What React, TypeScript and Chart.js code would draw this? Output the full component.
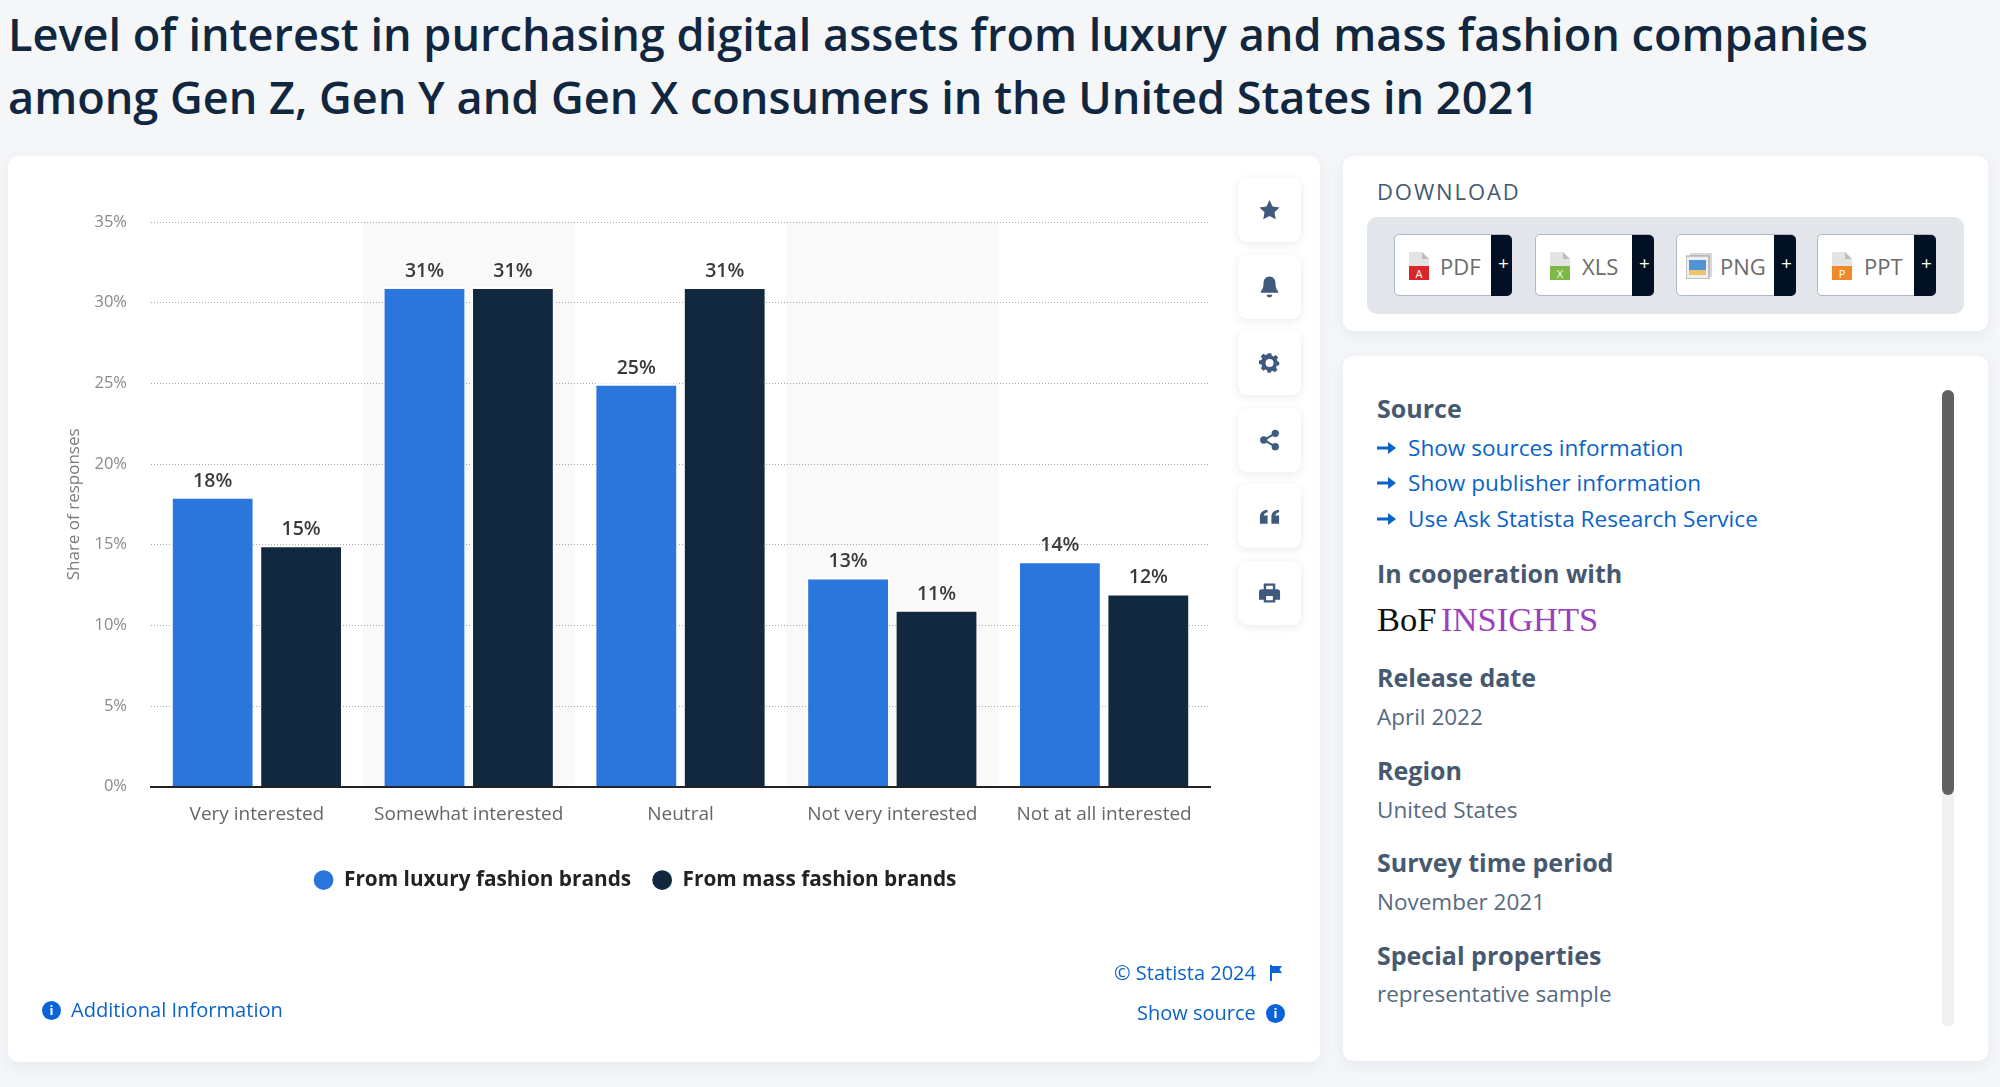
import {useEffect, useRef} from 'react'
import {Chart, registerables} from 'chart.js'

Chart.register(...registerables);

const categories = ["Very interested", "Somewhat interested", "Neutral", "Not very interested", "Not at all interested"];
const luxuryValues = [18, 31, 25, 13, 14];
const massValues = [15, 31, 31, 11, 12];
const seriesNames = ["From luxury fashion brands", "From mass fashion brands"];
const seriesColors = ["#2a76dd", "#12283f"];
const shadedCategories = ["Somewhat interested", "Not very interested"];
const yMax = 35;
const yStep = 5;

const FONT = "'Open Sans', sans-serif";
const SLATE = "#46596f";
const LINK = "#0a63c9";

// grey columns behind every second category
const bandsPlugin = {
    id: "bands",
    beforeDraw(chart: any) {
        const {ctx, scales} = chart;
        const x = scales.x;
        const band = x.width / categories.length;
        ctx.save();
        ctx.fillStyle = "#f9f9f9";
        shadedCategories.forEach((name) => {
            const cx = x.getPixelForValue(categories.indexOf(name));
            const top = scales.y.getPixelForValue(yMax);
            ctx.fillRect(cx - band / 2, top, band, scales.y.bottom - top);
        });
        ctx.restore();
    },
};

const valueLabelsPlugin = {
    id: "valueLabels",
    afterDatasetsDraw(chart: any) {
        const {ctx} = chart;
        ctx.save();
        ctx.font = `600 19.5px ${FONT}`;
        ctx.fillStyle = "#3a3a3a";
        ctx.textAlign = "center";
        ctx.textBaseline = "bottom";
        chart.data.datasets.forEach((ds: any, i: number) => {
            chart.getDatasetMeta(i).data.forEach((bar: any, j: number) => {
                ctx.fillText(ds.data[j] + "%", bar.x, bar.y - 5.5);
            });
        });
        ctx.restore();
    },
};

const Txt = ({x, y, size, color, weight = 400, spacing, wordSpacing, family, children}: any) => (
    <div style={{
        position: "absolute", left: x, top: y, transform: "translateY(-50%)", whiteSpace: "nowrap",
        fontFamily: family || FONT, fontSize: size, color, fontWeight: weight, letterSpacing: spacing, wordSpacing,
    }}>{children}</div>
);

const Card = ({x, y, w, h}: any) => (
    <div style={{
        position: "absolute", left: x, top: y, width: w, height: h, background: "#fff",
        borderRadius: 10, boxShadow: "0 4px 14px rgba(60,80,110,0.08)",
    }}/>
);

const iconPaths = [
    <path d="M12 1.500l3.200 6.800 7.300 1-5.300 5.100 1.300 7.300-6.500-3.500-6.500 3.500 1.300-7.300L1.500 9.300l7.300-1z"/>,
    <path d="M12 1c-4 0-6.200 3.100-6.200 6.900 0 4.400-1 6.700-2.800 8.500v1.600h18v-1.600c-1.800-1.800-2.800-4.100-2.800-8.500C18.200 4.100 16 1 12 1zM9.200 20h5.600a2.800 2.800 0 0 1-5.600 0z"/>,
    <path fillRule="evenodd" d="M10 2h4l.6 2.800 1.900.8 2.400-1.500 2.800 2.800-1.500 2.400.8 1.900L23 11.800v3.900l-2.800.6-.8 1.900 1.500 2.400-2.800 2.800-2.400-1.500-1.900.8L13.200 24h-3.400l-.6-2.800-1.900-.8-2.400 1.500-2.800-2.800 1.500-2.400-.8-1.900L0 14.200v-3.900l2.800-.6.8-1.900L2.100 5.400l2.800-2.800 2.400 1.500 1.900-.8zM12 8.500a4.500 4.500 0 1 0 0 9 4.500 4.500 0 0 0 0-9z" transform="translate(1 0) scale(.92)"/>,
    <g><circle cx="18" cy="5" r="3.800"/><circle cx="18" cy="19" r="3.800"/><circle cx="6" cy="12" r="3.800"/><path d="M6 11l12-7 1 1.800-12 7zM6 13l12 7 1-1.800-12-7z"/></g>,
    <path d="M2 20v-7c0-4 2.500-7 8-7.500V8c-2.500.4-3.800 1.700-4 3.500h4V20zM14 20v-7c0-4 2.500-7 8-7.500V8c-2.500.4-3.800 1.700-4 3.500h4V20z"/>,
    <path fillRule="evenodd" d="M6 2h12v6h2a3 3 0 0 1 3 3v8h-5v3H6v-3H1v-8a3 3 0 0 1 3-3h2zm2.500 2.500V8h7V4.500zM8.500 15v4.500h7V15z"/>,
];

const DocIcon = ({x, color, label}: any) => (
    <svg style={{position: "absolute", left: x, top: 252}} width="22" height="28" viewBox="0 0 22 28">
        <path d="M1 0h13l7 7v21H1z" fill="#e4e4e4"/>
        <path d="M14 0l7 7h-7z" fill="#bdbdbd"/>
        <rect x="1" y="14" width="20" height="14" fill={color}/>
        <text x="11" y="26" fontSize="11" textAnchor="middle" fill="#fff" fontFamily={FONT}>{label}</text>
    </svg>
);

const PictureIcon = ({x}: any) => (
    <svg style={{position: "absolute", left: x, top: 253}} width="26" height="26" viewBox="0 0 26 26">
        <rect x="4" y="0" width="22" height="24" fill="#d8d8d8"/>
        <rect x="0" y="3" width="23" height="23" fill="#eeeeee" stroke="#999999"/>
        <rect x="3" y="7" width="17" height="10" fill="#4f93d8"/>
        <rect x="3" y="17" width="17" height="5" fill="#e8c56a"/>
    </svg>
);

const Arrow = ({y}: any) => (
    <svg style={{position: "absolute", left: 1377, top: y - 7}} width="19" height="14" viewBox="0 0 19 14">
        <path d="M0 5.500h11V1l8 6-8 6V8.500H0z" fill={LINK}/>
    </svg>
);

const InfoDot = ({x, y}: any) => (
    <div style={{
        position: "absolute", left: x, top: y - 9.500, width: 19, height: 19, borderRadius: "50%", background: "#0b63dc",
        color: "#fff", fontSize: 13, lineHeight: "19px", textAlign: "center", fontFamily: FONT, fontWeight: 700,
    }}>i</div>
);

const downloadButtons = [
    {x: 1394, w: 118, blackX: 1491, label: "PDF", labelX: 1440, icon: "#d9262b", mark: "A"},
    {x: 1535, w: 119, blackX: 1632, label: "XLS", labelX: 1582, icon: "#7cb844", mark: "X"},
    {x: 1676, w: 120, blackX: 1774, label: "PNG", labelX: 1720, icon: "", mark: ""},
    {x: 1817, w: 119, blackX: 1914, label: "PPT", labelX: 1864, icon: "#ee8a2c", mark: "P"},
];

const sideLinks = [
    {y: 447, label: "Show sources information"},
    {y: 482, label: "Show publisher information"},
    {y: 518, label: "Use Ask Statista Research Service"},
];

const sideFacts = [
    {y: 677, vy: 716, head: "Release date", value: "April 2022"},
    {y: 770, vy: 809, head: "Region", value: "United States"},
    {y: 862, vy: 901, head: "Survey time period", value: "November 2021"},
    {y: 955, vy: 993, head: "Special properties", value: "representative sample"},
];

const App: React.FC = () => {
    const canvasRef = useRef<HTMLCanvasElement>(null);
    const chartRef = useRef<Chart | null>(null);

    useEffect(() => {
        if (!canvasRef.current) return;
        if (chartRef.current) chartRef.current.destroy();

        chartRef.current = new Chart(canvasRef.current, {
            type: "bar",
            data: {
                labels: categories,
                datasets: [
                    {label: seriesNames[0], data: luxuryValues, backgroundColor: seriesColors[0]},
                    {label: seriesNames[1], data: massValues, backgroundColor: seriesColors[1]},
                ],
            },
            options: {
                responsive: false,
                animation: false,
                devicePixelRatio: 1,
                datasets: {
                    bar: {
                        categoryPercentage: 0.835,
                        barPercentage: 0.925,
                        borderColor: "#ffffff",
                        borderWidth: {top: 2.5, left: 1, right: 1, bottom: 0},
                        borderSkipped: false,
                    },
                },
                layout: {padding: {left: 52, top: 66, right: 110, bottom: 161.5}},
                scales: {
                    x: {
                        grid: {display: false, drawTicks: false},
                        border: {color: "#222222", width: 2},
                        ticks: {color: "#666666", padding: 16, font: {family: FONT, size: 19}, maxRotation: 0},
                        afterFit(scale: any) { scale.height = 62; },
                    },
                    y: {
                        min: 0,
                        max: yMax,
                        ticks: {
                            stepSize: yStep,
                            color: "#8a8a8a",
                            padding: 24,
                            font: {family: FONT, size: 16.5},
                            callback: (v: any) => v + "%",
                        },
                        grid: {color: "#a8a8a8", lineWidth: 1, drawTicks: false},
                        border: {display: false, dash: [1, 2]},
                        title: {display: true, text: "Share of responses", color: "#7a7a7a", padding: {top: 4, bottom: 0}, font: {family: FONT, size: 17}},
                        afterFit(scale: any) { scale.width = 91; },
                    },
                },
                plugins: {
                    tooltip: {enabled: false},
                    legend: {
                        position: "bottom",
                        labels: {
                            usePointStyle: true,
                            pointStyle: "circle",
                            boxWidth: 20,
                            boxHeight: 14,
                            padding: 21,
                            color: "#222222",
                            font: {family: FONT, size: 20.8, weight: "700"},
                            // legend dots take the series fill, without the white bar edge
                            generateLabels: (chart: any) => chart.data.datasets.map((ds: any, i: number) => ({
                                text: ds.label,
                                fillStyle: ds.backgroundColor,
                                strokeStyle: ds.backgroundColor,
                                lineWidth: 0,
                                pointStyle: "circle",
                                fontColor: "#222222",
                                hidden: false,
                                datasetIndex: i,
                            })),
                        },
                    },
                },
            },
            plugins: [bandsPlugin, valueLabelsPlugin],
        } as any);

        return () => {
            chartRef.current?.destroy();
        };
    }, []);

    return (
        <div style={{position: "absolute", left: 0, top: 0, width: 2000, height: 1087, overflow: "hidden", background: "#f4f6f8", fontFamily: FONT}}>
            <Txt x={8} y={33} size={45.1} color="#10273f" weight={600}>Level of interest in purchasing digital assets from luxury and mass fashion companies</Txt>
            <Txt x={8} y={96} size={45.1} color="#10273f" weight={600}>among Gen Z, Gen Y and Gen X consumers in the United States in 2021</Txt>

            <Card x={8} y={156} w={1312} h={906}/>
            <Card x={1343} y={156} w={645} h={175}/>
            <Card x={1343} y={356} w={645} h={705}/>

            <canvas ref={canvasRef} width={1312} height={906} style={{position: "absolute", left: 8, top: 156}}/>

            {iconPaths.map((p, i) => (
                <div key={i} style={{
                    position: "absolute", left: 1238, top: 178 + i * 76.5, width: 63, height: 64, background: "#fff",
                    borderRadius: 9, boxShadow: "0 2px 8px rgba(60,80,110,0.12)",
                }}>
                    <svg style={{position: "absolute", left: 20, top: 20}} width="23" height="24" viewBox="0 0 24 24" fill="#3f5a7d">{p}</svg>
                </div>
            ))}

            <InfoDot x={42} y={1010}/>
            <Txt x={71} y={1009} size={20.1} color={LINK}>Additional Information</Txt>
            <Txt x={1114} y={972} size={20} color={LINK}>© Statista 2024</Txt>
            <svg style={{position: "absolute", left: 1270, top: 965}} width="12" height="16" viewBox="0 0 12 16">
                <path d="M0 0h2v16H0zM2 1h10l-2.500 3.500L12 8H2z" fill="#0b63dc"/>
            </svg>
            <Txt x={1137} y={1012} size={20} color={LINK}>Show source</Txt>
            <InfoDot x={1266} y={1013}/>

            <Txt x={1377} y={191} size={22} color={SLATE} spacing={1.9}>DOWNLOAD</Txt>
            <div style={{position: "absolute", left: 1367, top: 217, width: 597, height: 97, background: "#e2e5e9", borderRadius: 10}}/>
            {downloadButtons.map((b) => (
                <div key={b.label}>
                    <div style={{position: "absolute", left: b.x, top: 234, width: b.w, height: 62, background: "#fff", border: "1px solid #aeb8c6", boxSizing: "border-box", borderRadius: 5}}/>
                    <div style={{position: "absolute", left: b.blackX, top: 235, width: b.x + b.w - b.blackX, height: 61, background: "#021024", borderRadius: "0 5px 5px 0"}}/>
                    {b.icon ? <DocIcon x={b.x + 14} color={b.icon} label={b.mark}/> : <PictureIcon x={b.x + 10}/>}
                    <Txt x={b.labelX} y={266} size={22} color="#6b6b6b">{b.label}</Txt>
                    <Txt x={b.blackX + 7} y={263} size={19} color="#ffffff">+</Txt>
                </div>
            ))}

            <Txt x={1377} y={408} size={25} color={SLATE} weight={700}>Source</Txt>
            {sideLinks.map((l) => (
                <div key={l.label}>
                    <Arrow y={l.y + 1}/>
                    <Txt x={1408} y={l.y} size={22.6} color={LINK}>{l.label}</Txt>
                </div>
            ))}
            <Txt x={1377} y={573} size={25} color={SLATE} weight={700}>In cooperation with</Txt>
            <Txt x={1377} y={619} size={34.5} color="#111111" wordSpacing={-4} family="'Liberation Serif', serif">BoF <span style={{color: "#9b3fbf"}}>INSIGHTS</span></Txt>
            {sideFacts.map((f) => (
                <div key={f.head}>
                    <Txt x={1377} y={f.y} size={25} color={SLATE} weight={700}>{f.head}</Txt>
                    <Txt x={1377} y={f.vy} size={22.5} color="#566a80">{f.value}</Txt>
                </div>
            ))}
            <div style={{position: "absolute", left: 1942, top: 390, width: 12, height: 636, background: "#eef0f2", borderRadius: 5}}/>
            <div style={{position: "absolute", left: 1942, top: 390, width: 12, height: 405, background: "#5f6163", borderRadius: 6}}/>
        </div>
    );
};

export default App;
